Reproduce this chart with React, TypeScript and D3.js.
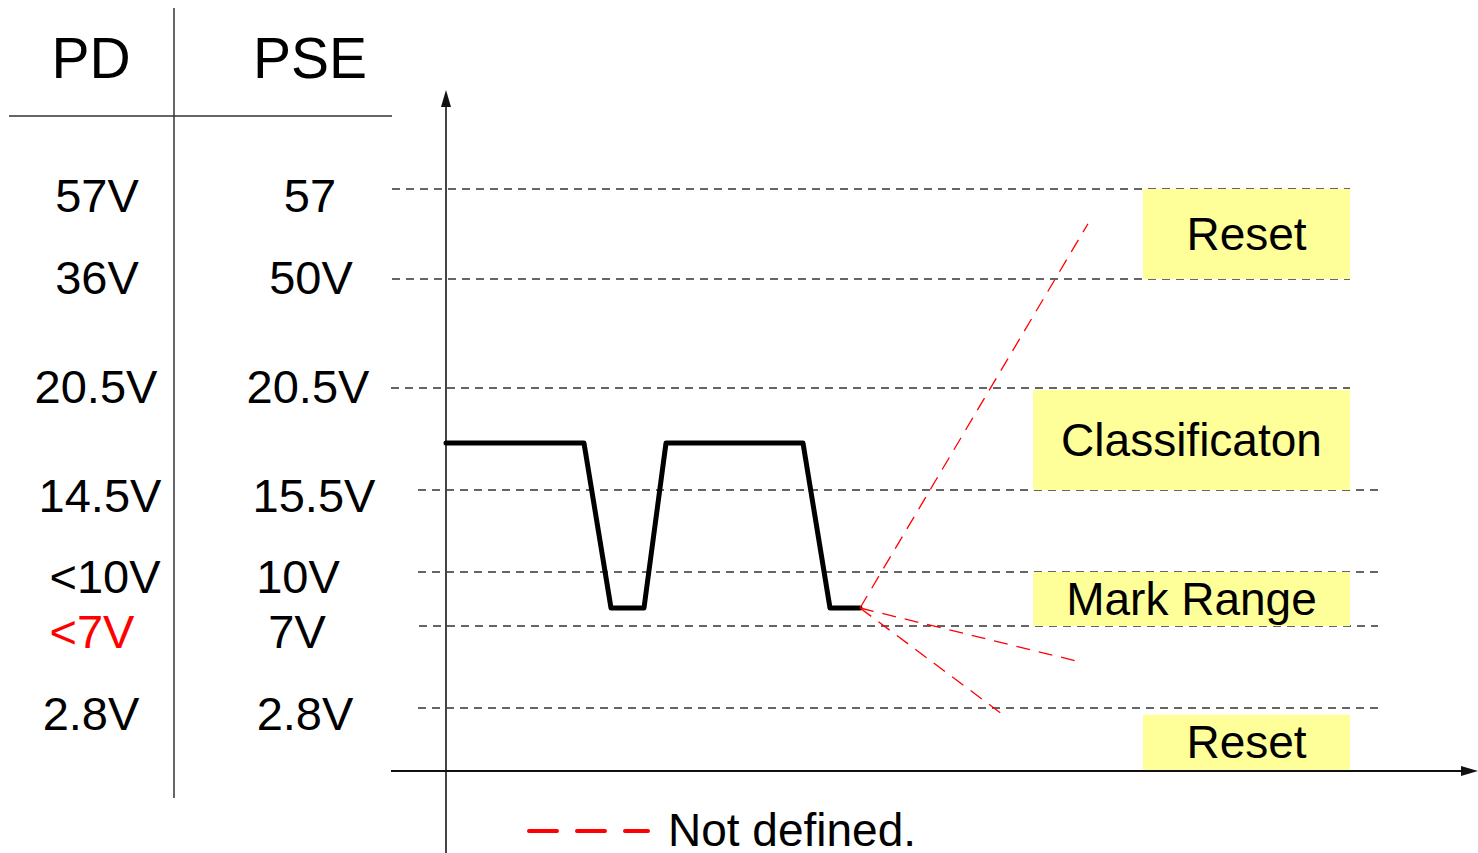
import React from "react";
import * as d3 from "d3";

// PSE threshold levels (volts) and the labels in the two table columns
const levels = [57, 50, 20.5, 15.5, 10, 7, 2.8];
const pdLabels = ["57V", "36V", "20.5V", "14.5V", "<10V", "<7V", "2.8V"];
const pseLabels = ["57", "50V", "20.5V", "15.5V", "10V", "7V", "2.8V"];
const pdColors = ["#000", "#000", "#000", "#000", "#000", "#f00", "#000"];
// where each dashed threshold line starts / ends (time units)
const levelStart = [-54, -54, -55, -28, -28, -27, -28];
const levelEnd = [904, 904, 904, 932, 932, 932, 932];

// PD voltage waveform (time, volts)
const waveT = [0, 138, 165, 198, 220, 357, 384, 414];
const waveV = [17.8, 17.8, 8, 8, 17.8, 17.8, 8, 8];

// undefined continuations (red dashed), from the last waveform point
const undefT = [642, 631, 560];
const undefV = [54.3, 5.2, 2.4];

// ranges marked by yellow boxes
const regionNames = ["Reset", "Classificaton", "Mark Range", "Reset"];
const regionLow = [50, 15.5, 7, 0.05];
const regionHigh = [57, 20.4, 10, 2.5];
const regionT0 = [697, 587, 587, 697];
const regionT1 = [904, 904, 904, 904];

const W = 1478;
const H = 853;

// hand placement of the table text (the original is not aligned strictly)
const pdX = [97, 97, 96, 100, 105, 92, 91];
const pseX = [310, 311, 308, 314, 298, 297, 305];
const rowDy = [23, 15, 15, 22, 21, 22, 22];

// piecewise voltage axis (the diagram is not to scale)
const y = d3
  .scaleLinear()
  .domain([0, 2.8, 7, 10, 15.5, 20.5, 50, 57])
  .range([771, 708, 626, 572, 490, 388, 279, 189]);
const x = d3.scaleLinear().domain([0, 1000]).range([446, 1446]);

const font = "'Liberation Sans', Arial, Helvetica, sans-serif";

export default function App() {
  const wave = d3
    .line<number>()
    .x((d, i) => x(waveT[i]))
    .y((d) => y(d))(waveV);

  const lastT = waveT[waveT.length - 1];
  const lastV = waveV[waveV.length - 1];

  return (
    <svg
      width={W}
      height={H}
      style={{ position: "absolute", left: 0, top: 0, background: "#fff" }}
      fontFamily={font}
    >
      {/* table */}
      <line x1={174} y1={8} x2={174} y2={798} stroke="#333" strokeWidth={1.5} />
      <line x1={9} y1={116} x2={392} y2={116} stroke="#333" strokeWidth={1.5} />
      <text x={91} y={78} fontSize={57} textAnchor="middle">PD</text>
      <text x={310} y={78} fontSize={57} textAnchor="middle">PSE</text>
      {levels.map((v, i) => (
        <g key={"lab" + i}>
          <text x={pdX[i]} y={y(v) + rowDy[i]} fontSize={47} textAnchor="middle" fill={pdColors[i]}>
            {pdLabels[i]}
          </text>
          <text x={pseX[i]} y={y(v) + rowDy[i]} fontSize={47} textAnchor="middle">
            {pseLabels[i]}
          </text>
        </g>
      ))}

      {/* threshold lines */}
      {levels.map((v, i) => (
        <line
          key={"lvl" + i}
          x1={x(levelStart[i])}
          x2={x(levelEnd[i])}
          y1={y(v)}
          y2={y(v)}
          stroke="#333"
          strokeWidth={1.5}
          strokeDasharray="8 6"
        />
      ))}

      {/* regions */}
      {regionNames.map((name, i) => {
        const y0 = y(regionHigh[i]);
        const y1 = y(regionLow[i]);
        const x0 = x(regionT0[i]);
        const x1 = x(regionT1[i]);
        return (
          <g key={"reg" + i}>
            <rect x={x0} y={y0} width={x1 - x0} height={y1 - y0} fill="#ffff99" />
            <text
              x={(x0 + x1) / 2}
              y={(y0 + y1) / 2 + 16}
              fontSize={46}
              textAnchor="middle"
            >
              {name}
            </text>
          </g>
        );
      })}

      {/* axes */}
      <line x1={446} y1={853} x2={446} y2={104} stroke="#444" strokeWidth={2} />
      <path d="M446,90 L451,107 L441,107 Z" fill="#111" />
      <line x1={391} y1={771} x2={1464} y2={771} stroke="#111" strokeWidth={2} />
      <path d="M1478,771 L1461,766 L1461,776 Z" fill="#111" />

      {/* waveform */}
      <path d={wave || ""} fill="none" stroke="#000" strokeWidth={5} strokeLinejoin="round" strokeLinecap="round" />

      {/* not defined */}
      {undefT.map((t, i) => (
        <line
          key={"und" + i}
          x1={x(lastT)}
          y1={y(lastV)}
          x2={x(t)}
          y2={y(undefV[i])}
          stroke="#f00"
          strokeWidth={1.3}
          strokeDasharray="14 9"
        />
      ))}

      {/* legend */}
      <line x1={529} x2={648} y1={831} y2={831} stroke="#f00" strokeWidth={4} strokeLinecap="round" strokeDasharray="28 20" />
      <text x={668} y={846} fontSize={46}>Not defined.</text>
    </svg>
  );
}
